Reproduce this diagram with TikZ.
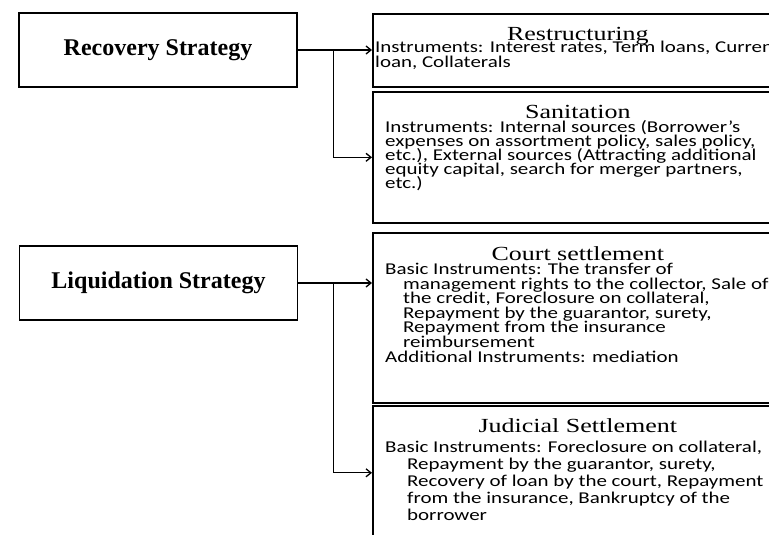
\documentclass[tikz,border=0pt]{standalone}
\usepackage{fontspec}
\setmainfont{Liberation Serif}
\newfontfamily\ttlfont[FakeStretch=1.3]{Liberation Serif}
\newfontfamily\bodyfont[FakeStretch=1.27]{Carlito}
\usetikzlibrary{arrows.meta,calc,positioning}

\begin{document}
\begin{tikzpicture}[x=1pt, y=-1pt,
  strategy/.style={draw, line width=1.6pt, minimum width=278pt, minimum height=74pt, font=\bfseries\fontsize{24}{28}\selectfont},
  panel/.style={draw, line width=1.6pt, anchor=north west, minimum width=410pt},
  ptitle/.style={anchor=base, inner sep=0pt, font=\ttlfont\fontsize{20}{24}\selectfont},
  % base of a multi-line text = baseline of its last line
  ptext/.style={anchor=base west, align=left, inner sep=0pt, font={\bodyfont\fontsize{16.5}{#1}\selectfont\lineskiplimit=-\maxdimen}},
  ptext/.default=14.6,
  conn/.style={line width=1.3pt, -{Straight Barb[length=5pt, width=8pt]}}
]
\useasboundingbox (0,0) rectangle (769,535);
\clip (0,0) rectangle (769,535);

% strategies
\node[strategy] (rec) at (158,50)  {Recovery Strategy};
\node[strategy] (liq) at (158.5,283) {Liquidation Strategy};

% instrument panels
\node[panel, minimum height=73pt]  (restr) at (372,13)  {};
\node[panel, minimum height=131pt] (sanit) at (372,91)  {};
\node[panel, minimum height=170pt] (court) at (372,232) {};
\node[panel, minimum height=134pt] (judic) at (372,405) {};

\node[ptitle] (restr-t) at ($(restr.north)+(0,28)$) {Restructuring};
\node[ptitle] (sanit-t) at ($(sanit.north)+(0,27)$) {Sanitation};
\node[ptitle] (court-t) at ($(court.north)+(0,28)$) {Court settlement};
\node[ptitle] (judic-t) at ($(judic.north)+(0,27)$) {Judicial Settlement};

\node[ptext=15] (restr-b) at ($(restr.north west)+(3,54)$)
  {Instruments: Interest rates, Term loans, Currency\\loan, Collaterals};
\node[ptext=13.8] (sanit-b) at ($(sanit.north west)+(13,97)$)
  {Instruments: Internal sources (Borrower’s\\expenses on assortment policy, sales policy,\\etc.), External sources (Attracting additional\\equity capital, search for merger partners,\\etc.)};
\node[ptext] (court-b) at ($(court.north west)+(13,130)$)
  {Basic Instruments: The transfer of\\
   \hspace*{18pt}management rights to the collector, Sale of\\
   \hspace*{18pt}the credit, Foreclosure on collateral,\\
   \hspace*{18pt}Repayment by the guarantor, surety,\\
   \hspace*{18pt}Repayment from the insurance\\
   \hspace*{18pt}reimbursement\\
   Additional Instruments: mediation};
\node[ptext=17] (judic-b) at ($(judic.north west)+(13,115)$)
  {Basic Instruments: Foreclosure on collateral,\\
   \hspace*{22pt}Repayment by the guarantor, surety,\\
   \hspace*{22pt}Recovery of loan by the court, Repayment\\
   \hspace*{22pt}from the insurance, Bankruptcy of the\\
   \hspace*{22pt}borrower};

% connectors
\coordinate (rec-j) at ($(rec.east)+(36,0)$);
\coordinate (liq-j) at ($(liq.east)+(35,0)$);
\draw[conn] (rec.east) -- (rec.east -| restr.west);
\draw[conn] (rec-j) |- (sanit.west);
\draw[conn] (liq.east) -- (liq.east -| court.west);
\draw[conn] (liq-j) |- (judic.west);
\end{tikzpicture}
\end{document}
